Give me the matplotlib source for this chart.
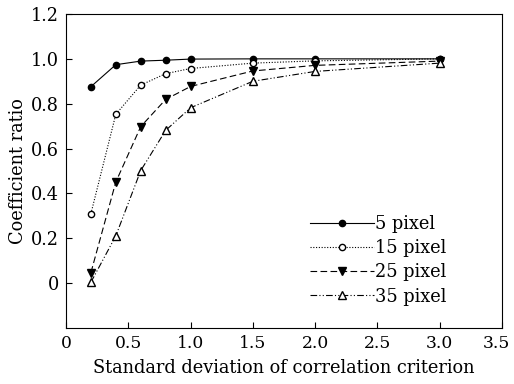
import numpy as np
import matplotlib
matplotlib.use("Agg")
from matplotlib import pyplot as plt
from matplotlib import transforms

# data
sigma = [0.2, 0.4, 0.6, 0.8, 1.0, 1.5, 2.0, 3.0]
px5 = [0.876, 0.974, 0.990, 0.994, 0.999, 1.0, 1.0, 1.0]
px15 = [0.31, 0.753, 0.883, 0.934, 0.957, 0.981, 0.991, 1.0]
px25 = [0.047, 0.451, 0.698, 0.819, 0.877, 0.946, 0.971, 0.99]
px35 = [0.004, 0.211, 0.502, 0.681, 0.782, 0.90, 0.944, 0.981]
labels = ["5 pixel", "15 pixel", "25 pixel", "35 pixel"]

plt.rcParams['font.family'] = ['DejaVu Serif']
plt.rcParams['font.size'] = 12.8

fig = plt.figure(figsize=(5.14, 3.84), dpi=100)
ax = fig.add_axes([66/514, 1-328/384, (502-66)/514, (328-14)/384])

lw = 0.8
ax.plot(sigma, px5, color='black', lw=lw, ls='-', marker='o', ms=4.5,
        mfc='black', label=labels[0])
ax.plot(sigma, px15, color='black', lw=lw, ls=(0, (1, 1.5)), marker='o', ms=4.5,
        mfc='white', label=labels[1])
ax.plot(sigma, px25, color='black', lw=lw, ls=(0, (6, 3)), marker='v', ms=5.5,
        mfc='black', label=labels[2])
ax.plot(sigma, px35, color='black', lw=lw, ls=(0, (6, 2, 1, 2, 1, 2)), marker='^', ms=5.5,
        mfc='white', label=labels[3])

ax.set_xlim(0, 3.5)
ax.set_ylim(-0.2, 1.2)
ax.set_xticks([0, 0.5, 1.0, 1.5, 2.0, 2.5, 3.0, 3.5])
ax.set_xticklabels(['0', '0.5', '1.0', '1.5', '2.0', '2.5', '3.0', '3.5'])
ax.set_yticks([0, 0.2, 0.4, 0.6, 0.8, 1.0, 1.2])
ax.set_yticklabels(['0', '0.2', '0.4', '0.6', '0.8', '1.0', '1.2'])
ax.tick_params(direction='in', length=4, width=0.8, top=False, right=False, pad=5)
ax.tick_params(axis='x', labelsize=12.3)
for s in ax.spines.values():
    s.set_linewidth(0.8)

# keep the last x tick label inside the figure
last = ax.get_xticklabels()[-1]
last.set_transform(last.get_transform() + transforms.ScaledTranslation(-6/100, 0, fig.dpi_scale_trans))

ax.set_xlabel('Standard deviation of correlation criterion', labelpad=5)
ax.set_ylabel('Coefficient ratio', labelpad=3)

ax.legend(loc='lower right', bbox_to_anchor=(0.91, 0.02), frameon=False,
          handlelength=3.6, handletextpad=0.1, labelspacing=0.35)

fig.savefig('out.png', dpi=100)
